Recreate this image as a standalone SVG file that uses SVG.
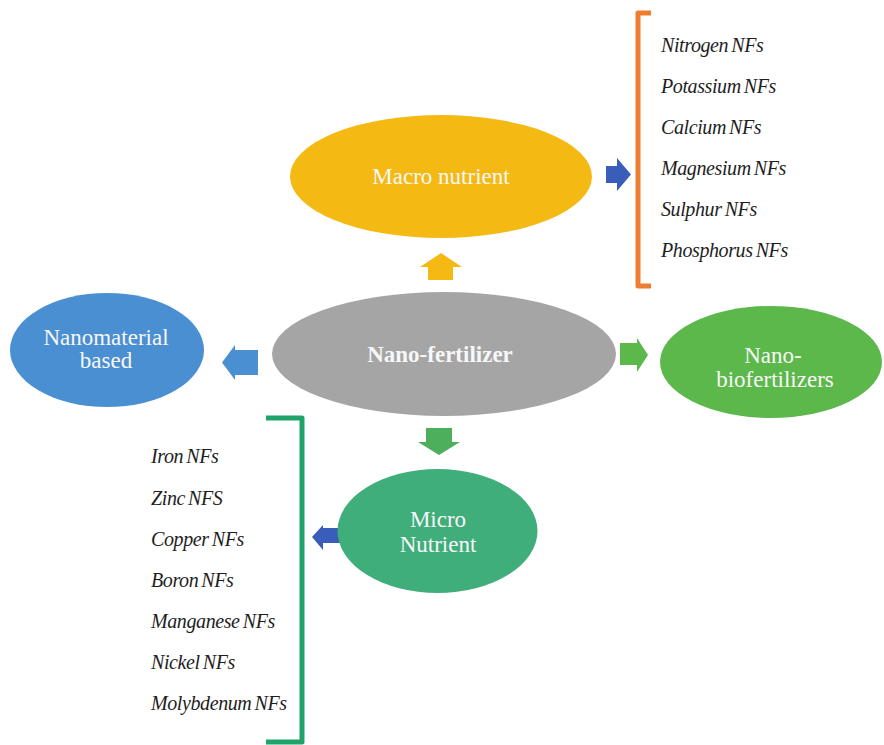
<svg xmlns="http://www.w3.org/2000/svg" width="884" height="745" viewBox="0 0 884 745">
  <style>
    .lbl { font-family: "Liberation Serif", "Times New Roman", serif; font-size: 23px; fill: #f7f7f7; text-anchor: middle; }
    .bold { font-weight: bold; }
    .item { font-family: "Liberation Serif", "Times New Roman", serif; font-style: italic; font-size: 20px; fill: #1e1e1e; letter-spacing: -0.4px; word-spacing: -1.5px; }
    .bracket { fill: none; stroke-width: 5; stroke-linejoin: round; stroke-linecap: butt; }
  </style>
  <rect width="884" height="745" fill="#ffffff"/>

  <!-- arrows between the ellipses -->
  <g id="connectors">
    <polygon points="441,253 462,267 453,267 453,280 428,280 428,267 420,267" fill="#F5B914"/>
    <polygon points="606,166 617,166 617,158 631,174.5 617,191 617,183 606,183" fill="#3A5DB9"/>
    <polygon points="222,362.5 235,345 235,350 258,350 258,375 235,375 235,380" fill="#4A8FD1"/>
    <polygon points="620,343 637,343 637,338 648,355 637,372 637,365 620,365" fill="#5DB84C"/>
    <polygon points="426,428 452,428 452,442 460,442 439,455 418,442 426,442" fill="#4DAE5C"/>
    <polygon points="312,537 323,525 323,528 340,528 340,543 323,543 323,550" fill="#3A5DB9"/>
  </g>

  <g id="nano-fertilizer">
    <ellipse cx="444" cy="354" rx="172" ry="62" fill="#A5A5A5"/>
    <text class="lbl bold" x="440" y="362">Nano-fertilizer</text>
  </g>

  <g id="macro-nutrient">
    <ellipse cx="441" cy="176.5" rx="151" ry="61.5" fill="#F5B914"/>
    <text class="lbl" x="441" y="184">Macro nutrient</text>
  </g>

  <g id="nanomaterial-based">
    <ellipse cx="107" cy="350" rx="97" ry="57" fill="#4A8FD1"/>
    <text class="lbl" x="106" y="345">Nanomaterial</text>
    <text class="lbl" x="106" y="368">based</text>
  </g>

  <g id="nano-biofertilizers">
    <ellipse cx="771" cy="362" rx="111" ry="56" fill="#5DB84C"/>
    <text class="lbl" x="773" y="363">Nano-</text>
    <text class="lbl" x="775" y="387">biofertilizers</text>
  </g>

  <g id="micro-nutrient">
    <ellipse cx="437.5" cy="531" rx="100" ry="62" fill="#3FAE7A"/>
    <text class="lbl" x="438" y="527">Micro</text>
    <text class="lbl" x="438" y="552">Nutrient</text>
  </g>

  <!-- macro nutrient list -->
  <g id="macro-list">
    <path class="bracket" d="M651,13 H638 V286 H651" stroke="#ED7D31"/>
    <text class="item" x="661" y="52">Nitrogen NFs</text>
    <text class="item" x="661" y="93">Potassium NFs</text>
    <text class="item" x="661" y="134">Calcium NFs</text>
    <text class="item" x="661" y="175">Magnesium NFs</text>
    <text class="item" x="661" y="216">Sulphur NFs</text>
    <text class="item" x="661" y="257">Phosphorus NFs</text>
  </g>

  <!-- micro nutrient list -->
  <g id="micro-list">
    <path class="bracket" d="M266,418 H302 V742 H266" stroke="#1FA36B"/>
    <text class="item" x="151" y="463">Iron NFs</text>
    <text class="item" x="151" y="505">Zinc NFS</text>
    <text class="item" x="151" y="546">Copper NFs</text>
    <text class="item" x="151" y="587">Boron NFs</text>
    <text class="item" x="151" y="628">Manganese NFs</text>
    <text class="item" x="151" y="669">Nickel NFs</text>
    <text class="item" x="151" y="710">Molybdenum NFs</text>
  </g>
</svg>
